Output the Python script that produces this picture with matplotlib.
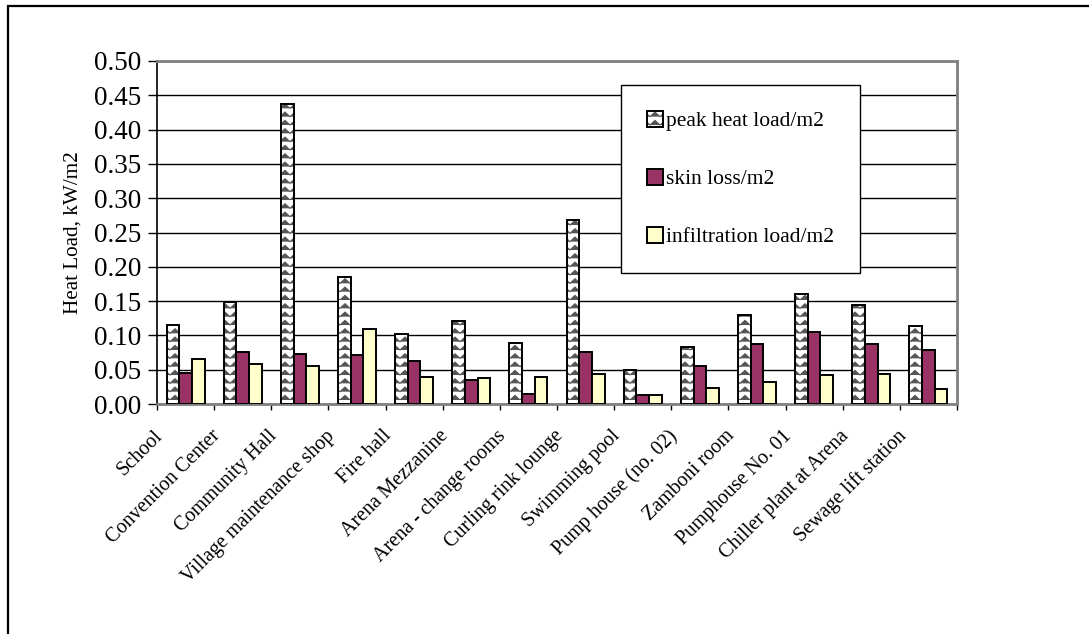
import warnings
import numpy as np
import matplotlib
matplotlib.use("Agg")
import matplotlib.pyplot as plt
import matplotlib.hatch as mhatch
import matplotlib.transforms as mtransforms
from matplotlib.path import Path
from matplotlib.patches import Rectangle
from matplotlib.legend_handler import HandlerTuple

warnings.filterwarnings("ignore")

# building names and loads per m2 (kW/m2)
buildings = ["School", "Convention Center", "Community Hall", "Village maintenance shop",
             "Fire hall", "Arena Mezzanine", "Arena - change rooms", "Curling rink lounge",
             "Swimming pool", "Pump house (no. 02)", "Zamboni room", "Pumphouse No. 01",
             "Chiller plant at Arena", "Sewage lift station"]
peak_load = [0.115, 0.149, 0.438, 0.185, 0.102, 0.121, 0.089, 0.268,
             0.049, 0.083, 0.130, 0.160, 0.145, 0.113]
skin_loss = [0.045, 0.076, 0.073, 0.072, 0.062, 0.035, 0.014, 0.076,
             0.013, 0.055, 0.088, 0.105, 0.087, 0.079]
infiltration = [0.065, 0.059, 0.055, 0.110, 0.040, 0.038, 0.040, 0.044,
                0.013, 0.024, 0.032, 0.042, 0.044, 0.022]
series_names = ["peak heat load/m2", "skin loss/m2", "infiltration load/m2"]
yticks = [0.00, 0.05, 0.10, 0.15, 0.20, 0.25, 0.30, 0.35, 0.40, 0.45, 0.50]


# zigzag hatch (like the old spreadsheet fill pattern), used with 'z'
class ZigzagHatch(mhatch.HatchPatternBase):
    def __init__(self, hatch, density):
        self.num_rows = int(hatch.count('z') * density)
        self.num_teeth = int(round(self.num_rows * 0.8))
        self.num_vertices = self.num_rows * (2 * self.num_teeth + 1)

    def set_vertices_and_codes(self, vertices, codes):
        n, m = self.num_rows, self.num_teeth
        xs = np.linspace(0.0, 1.0, 2 * m + 1)
        amp = 0.55 / n
        k = 0
        for i in range(n):
            y0 = i / n
            for j, x in enumerate(xs):
                vertices[k, 0] = x
                vertices[k, 1] = y0 + (amp if j % 2 else 0.0)
                codes[k] = Path.MOVETO if j == 0 else Path.LINETO
                k += 1


mhatch._hatch_types.append(ZigzagHatch)

plt.rcParams['font.family'] = ['Liberation Serif', 'DejaVu Serif']
plt.rcParams['hatch.linewidth'] = 0.8

W, H = 1089, 634
fig = plt.figure(figsize=(W / 100, H / 100), dpi=100)
ax = fig.add_axes([157 / W, 1 - 404 / H, 800 / W, 343 / H])

x = np.arange(len(buildings))
w = 0.222
# hatched fill in dark grey, then a black outline on top
peak_fill = ax.bar(x - w, peak_load, w, color="white", edgecolor="#555555", linewidth=0,
                   hatch="zz", zorder=3)
peak_edge = ax.bar(x - w, peak_load, w, fill=False, edgecolor="black", linewidth=1.4,
                   zorder=3.1)
skin = ax.bar(x, skin_loss, w, color="#993366", edgecolor="black", linewidth=1.4,
              zorder=3)
infil = ax.bar(x + w, infiltration, w, color="#FFFFCC", edgecolor="black", linewidth=1.4,
               zorder=3)

ax.set_xlim(-0.5, len(buildings) - 0.5)
ax.set_ylim(0, 0.5)
ax.set_yticks(yticks)
ax.set_yticklabels([f"{v:.2f}" for v in yticks], fontsize=19.5)
ax.yaxis.grid(True, color="black", linewidth=1.0, zorder=0)
ax.tick_params(axis="y", length=6.5, width=1.0, pad=5, direction="out")

ax.set_xticks(x)
ax.set_xticklabels(buildings, rotation=45, ha="right", rotation_mode="anchor",
                   fontsize=14.5)
ax.tick_params(axis="x", length=0, pad=14)
ax.set_xticks(np.arange(len(buildings) + 1) - 0.5, minor=True)
ax.tick_params(axis="x", which="minor", length=4.5, width=1.0, color="black")

# shift category labels left so their ends sit left of the group centre
shift = mtransforms.ScaledTranslation(-32 / 100, -3 / 100, fig.dpi_scale_trans)
for lbl in ax.get_xticklabels():
    lbl.set_transform(lbl.get_transform() + shift)

ax.set_ylabel("Heat Load, kW/m2", fontsize=15.2, labelpad=8)

for side in ["top", "right", "bottom"]:
    ax.spines[side].set_color("#808080")
    ax.spines[side].set_linewidth(2.0)
ax.spines["left"].set_color("black")
ax.spines["left"].set_linewidth(1.2)

leg = ax.legend([(peak_fill, peak_edge), skin, infil], series_names,
                handler_map={tuple: HandlerTuple(ndivide=1, pad=0)},
                loc="upper left", bbox_to_anchor=(621 / W, 1 - 85 / H),
                bbox_transform=fig.transFigure, fontsize=15.5, frameon=True,
                fancybox=False, edgecolor="black", framealpha=1, borderpad=1.2,
                labelspacing=1.75, handlelength=0.75, handleheight=0.75,
                handletextpad=0.15, borderaxespad=0)
leg.get_frame().set_linewidth(1.0)

# outer chart border
fig.patches.append(Rectangle((8 / W, -0.1), 1.2, 1.1 - 6 / H, transform=fig.transFigure,
                             fill=False, edgecolor="black", linewidth=1.6))

fig.savefig("out.png", dpi=100)
